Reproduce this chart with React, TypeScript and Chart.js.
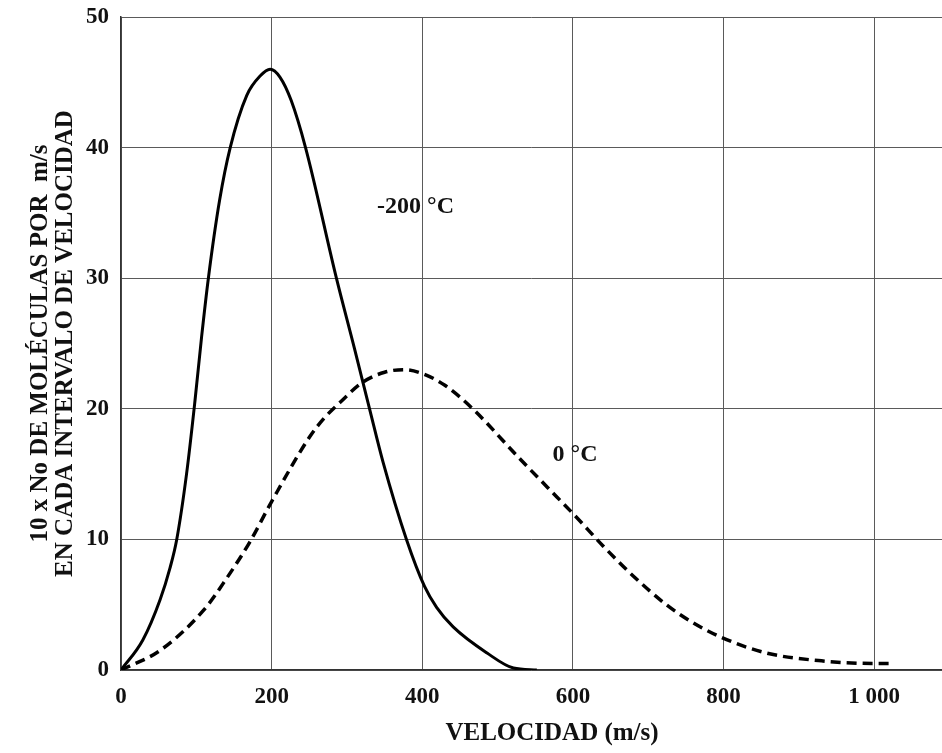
import React, { useEffect, useRef } from 'react';
import { Chart, registerables } from 'chart.js';

Chart.register(...registerables);

// Axis ticks
const xTicks = [0, 200, 400, 600, 800, 1000];
const yTicks = [0, 10, 20, 30, 40, 50];

// -200 °C curve (solid)
const coldSpeeds = [0, 29, 52, 65, 74, 87, 98, 107, 116, 131, 145, 167, 185, 198, 211, 226, 245, 286, 310, 330, 348, 379, 403, 419, 441, 486, 521, 552];
const coldCounts = [0, 2.3, 5.4, 7.8, 10, 15, 20.5, 25.5, 30, 36, 40, 44, 45.5, 46, 45.4, 43.6, 40, 30, 24.6, 20, 15.9, 10, 6.4, 4.8, 3.3, 1.3, 0.15, 0];

// 0 °C curve (dashed)
const warmSpeeds = [0, 52, 110, 140, 171, 200, 251, 270, 291, 320, 350, 377, 400, 430, 467, 529, 566, 603, 640, 680, 724, 760, 797, 857, 930, 1000, 1027];
const warmCounts = [0, 1.5, 4.6, 7.0, 9.8, 12.9, 17.9, 19.3, 20.5, 22.0, 22.8, 23, 22.7, 21.8, 20, 16.2, 14.0, 11.8, 9.5, 7.2, 5.0, 3.6, 2.5, 1.3, 0.7, 0.5, 0.5];

// Curve labels (data coordinates)
const labelTexts = ['-200 °C', '0 °C'];
const labelSpeeds = [340, 573];
const labelCounts = [35.5, 16.5];

const yTitle = ['10 x No DE MOLÉCULAS POR  m/s', 'EN CADA INTERVALO DE VELOCIDAD'];
const xTitle = 'VELOCIDAD (m/s)';

const FAMILY = "'Liberation Serif', 'Times New Roman', serif";
const INK = '#111';

const textPlugin = {
  id: 'textPlugin',
  afterDraw(chart: any) {
    const { ctx, chartArea, scales } = chart;
    const xs = scales.x;
    const ys = scales.y;
    ctx.save();
    ctx.fillStyle = INK;
    ctx.font = `bold 24px ${FAMILY}`;
    ctx.textAlign = 'left';
    ctx.textBaseline = 'middle';
    labelTexts.forEach((t, i) => {
      ctx.fillText(t, xs.getPixelForValue(labelSpeeds[i]), ys.getPixelForValue(labelCounts[i]));
    });
    ctx.font = `bold 25px ${FAMILY}`;
    ctx.textAlign = 'center';
    ctx.fillText(xTitle, chartArea.left + chartArea.width * 0.525, chart.height - 19);
    ctx.restore();
  },
};

export default function App() {
  const ref = useRef<HTMLCanvasElement | null>(null);

  useEffect(() => {
    if (!ref.current) return;
    const toPts = (xs: number[], ys: number[]) => xs.map((x, i) => ({ x, y: ys[i] }));
    const chart = new Chart(ref.current, {
      type: 'line',
      data: {
        datasets: [
          {
            label: '-200 °C',
            data: toPts(coldSpeeds, coldCounts),
            borderColor: '#000',
            borderWidth: 3,
            pointRadius: 0,
            fill: false,
            cubicInterpolationMode: 'monotone',
          },
          {
            label: '0 °C',
            data: toPts(warmSpeeds, warmCounts),
            borderColor: '#000',
            borderWidth: 3.5,
            borderDash: [10, 6],
            pointRadius: 0,
            fill: false,
            cubicInterpolationMode: 'monotone',
          },
        ],
      },
      options: {
        animation: false,
        responsive: false,
        layout: { padding: { top: 17, right: 0, left: 0, bottom: 0 } },
        plugins: {
          legend: { display: false },
          tooltip: { enabled: false },
        },
        scales: {
          x: {
            type: 'linear',
            min: 0,
            max: 1090,
            afterBuildTicks: (s: any) => {
              s.ticks = xTicks.map((v) => ({ value: v }));
            },
            afterFit: (s: any) => {
              s.height = 83;
              s.paddingRight = 0;
            },
            grid: { color: '#5a5a5a', lineWidth: 1, drawTicks: false },
            border: { color: '#333', width: 1.5 },
            ticks: {
              padding: 13,
              color: INK,
              font: { family: FAMILY, size: 23, weight: 'bold' },
              maxRotation: 0,
              callback: (v: any) => String(v).replace(/\B(?=(\d{3})+(?!\d))/g, ' '),
            },
          },
          y: {
            type: 'linear',
            min: 0,
            max: 50,
            afterBuildTicks: (s: any) => {
              s.ticks = yTicks.map((v) => ({ value: v }));
            },
            afterFit: (s: any) => {
              s.width = 121;
              s.paddingTop = 0;
              s.paddingBottom = 0;
            },
            grid: { color: '#5a5a5a', lineWidth: 1, drawTicks: false },
            border: { color: '#333', width: 1.5 },
            ticks: {
              padding: 12,
              color: INK,
              font: { family: FAMILY, size: 23, weight: 'bold' },
            },
            title: {
              display: true,
              text: yTitle,
              color: INK,
              font: { family: FAMILY, size: 25, weight: 'bold', lineHeight: '25px' },
              padding: { top: 28, bottom: 0 },
            },
          },
        },
      },
      plugins: [textPlugin],
    } as any);
    return () => chart.destroy();
  }, []);

  return (
    <div style={{ position: 'fixed', left: 0, top: 0, width: 942, height: 753, background: '#fff' }}>
      <canvas ref={ref} width={942} height={753} style={{ display: 'block' }} />
    </div>
  );
}
